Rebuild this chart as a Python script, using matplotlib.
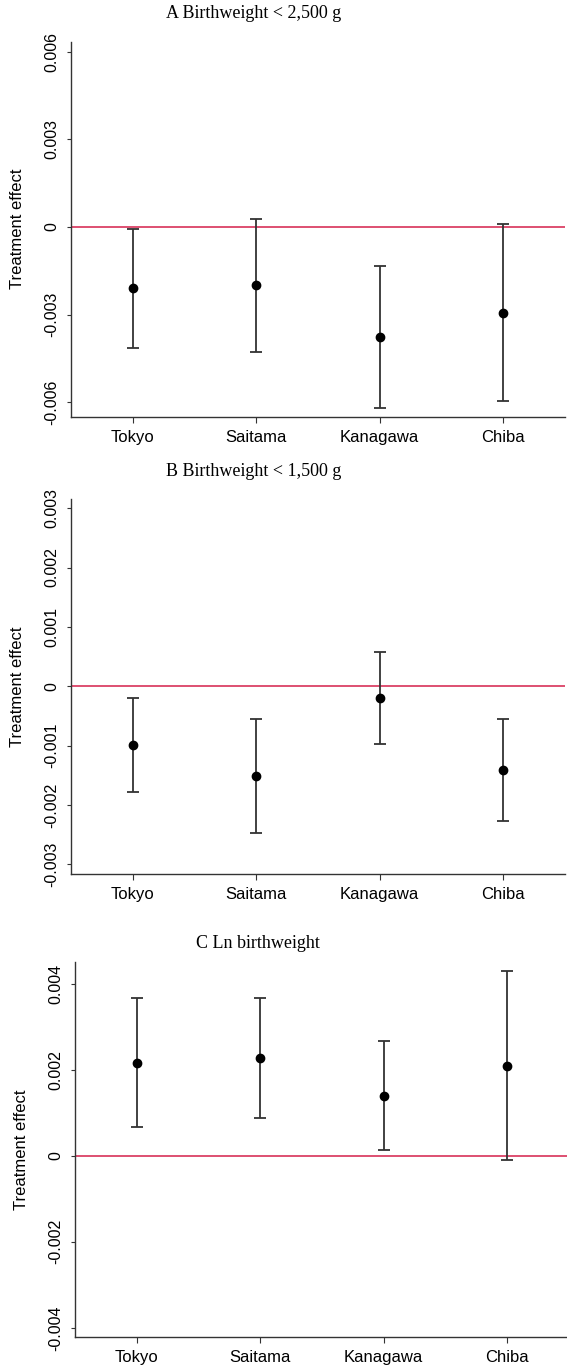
import numpy as np
import matplotlib
matplotlib.use("Agg")
import matplotlib.pyplot as plt

# --------------------------------------------
# Data
# --------------------------------------------
regions = ["Tokyo", "Saitama", "Kanagawa", "Chiba"]

# Panel A: Birthweight < 2,500 g
est_a = [-0.00209, -0.00200, -0.00378, -0.00293]
lo_a = [-0.00415, -0.00426, -0.00619, -0.00595]
hi_a = [-0.00007, 0.00027, -0.00135, 0.00010]
ticks_a = [0.006, 0.003, 0.0, -0.003, -0.006]
labels_a = ["0.006", "0.003", "0", "-0.003", "-0.006"]

# Panel B: Birthweight < 1,500 g
est_b = [-0.00099, -0.00152, -0.00020, -0.00142]
lo_b = [-0.00178, -0.00248, -0.00097, -0.00227]
hi_b = [-0.00020, -0.00056, 0.00057, -0.00056]
ticks_b = [0.003, 0.002, 0.001, 0.0, -0.001, -0.002, -0.003]
labels_b = ["0.003", "0.002", "0.001", "0", "-0.001", "-0.002", "-0.003"]

# Panel C: Ln birthweight
est_c = [0.00216, 0.00228, 0.00139, 0.00210]
lo_c = [0.00066, 0.00087, 0.00013, -0.00009]
hi_c = [0.00366, 0.00368, 0.00266, 0.00429]
ticks_c = [0.004, 0.002, 0.0, -0.002, -0.004]
labels_c = ["0.004", "0.002", "0", "-0.002", "-0.004"]

titles = ["A Birthweight < 2,500 g", "B Birthweight < 1,500 g", "C Ln birthweight"]

# --------------------------------------------
# Layout (pixel based)
# --------------------------------------------
W, H = 567, 1368
fig = plt.figure(figsize=(W / 100, H / 100), dpi=100)

def px_axes(left, top, right, bottom):
    return fig.add_axes([left / W, 1 - bottom / H, (right - left) / W, (bottom - top) / H])

panels = [
    (px_axes(71, 41.7, 565, 416.7), est_a, lo_a, hi_a, ticks_a, labels_a, (-0.00649, 0.00634), (254, 13.5)),
    (px_axes(71, 499.3, 565, 874.3), est_b, lo_b, hi_b, ticks_b, labels_b, (-0.00317, 0.00315), (254, 471)),
    (px_axes(75, 962.3, 569, 1337.3), est_c, lo_c, hi_c, ticks_c, labels_c, (-0.00422, 0.00450), (258, 943)),
]

dark = "#333333"
x = np.arange(1, len(regions) + 1)

for (ax, est, lo, hi, ticks, labels, ylim, tpos), title in zip(panels, titles):
    est = np.array(est)
    yerr = [est - np.array(lo), np.array(hi) - est]
    ax.axhline(0, color="#d41f4a", lw=1.1, zorder=1)
    ax.errorbar(x, est, yerr=yerr, fmt="o", color="black", ecolor=dark,
                elinewidth=1.3, capsize=4, capthick=1.3, markersize=6, zorder=3)
    ax.set_xlim(0.5, 4.5)
    ax.set_ylim(*ylim)
    ax.set_xticks(x)
    ax.set_xticklabels(regions, fontsize=12, family="Liberation Sans")
    ax.set_yticks(ticks)
    ax.set_yticklabels(labels, rotation=90, va="center", fontsize=11.5, family="Liberation Sans")
    ax.tick_params(axis="y", length=3.2, pad=5, color=dark)
    ax.tick_params(axis="x", length=4.3, pad=5, color=dark)
    for s in ["top", "right"]:
        ax.spines[s].set_visible(False)
    for s in ["left", "bottom"]:
        ax.spines[s].set_color(dark)
        ax.spines[s].set_linewidth(1.0)
    ax.set_ylabel("Treatment effect", fontsize=12, family="Liberation Sans")
    ax.yaxis.set_label_coords(-0.093, 0.5)
    fig.text(tpos[0] / W, 1 - tpos[1] / H, title, ha="center", va="center",
             fontsize=13, family="Liberation Serif")

fig.savefig("out.png", dpi=100)
